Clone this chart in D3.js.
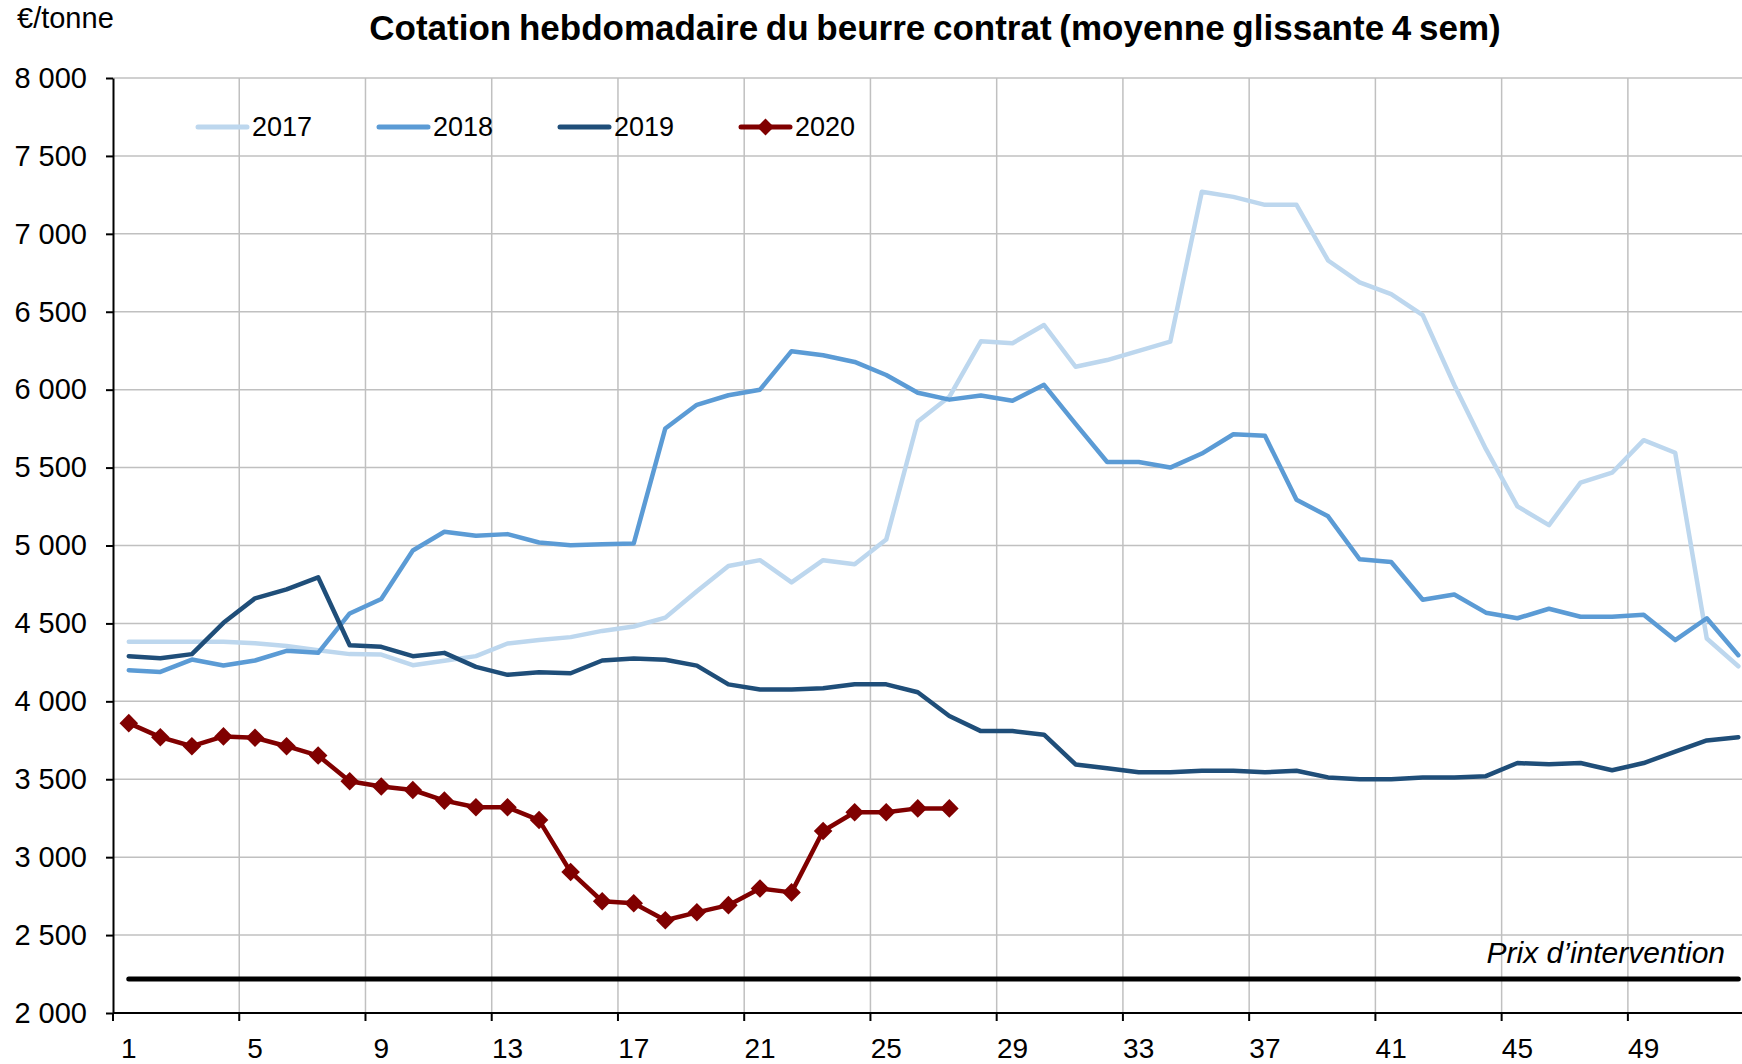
<!DOCTYPE html>
<html>
<head>
<meta charset="utf-8">
<script src="https://cdnjs.cloudflare.com/ajax/libs/d3/7.8.5/d3.min.js"></script>
<style>
  body { margin: 0; background: #fff; }
  text { font-family: "Liberation Sans", Arial, sans-serif; }
</style>
</head>
<body>
<div class="graph"></div>
<script>
const weeks = d3.range(1, 53);
const years = ["2017", "2018", "2019", "2020"];
const weekLabels = [1, 5, 9, 13, 17, 21, 25, 29, 33, 37, 41, 45, 49];
const yTicks = [2000, 2500, 3000, 3500, 4000, 4500, 5000, 5500, 6000, 6500, 7000, 7500, 8000];

const s2017 = [4382, 4382, 4382, 4382, 4372, 4355, 4328, 4303, 4300, 4232,
               4260, 4290, 4371, 4393, 4412, 4452, 4480, 4537, 4707, 4868,
               4906, 4763, 4906, 4880, 5038, 5796, 5954, 6310, 6298, 6415,
               6147, 6190, 6249, 6308, 7270, 7237, 7186, 7186, 6829, 6689,
               6613, 6478, 6030, 5620, 5251, 5131, 5404, 5467, 5676, 5595,
               4403, 4225];
const s2018 = [4200, 4189, 4268, 4230, 4262, 4324, 4311, 4564, 4657, 4968,
               5088, 5062, 5073, 5019, 5002, 5008, 5013, 5751, 5903, 5964,
               6000, 6247, 6221, 6178, 6094, 5980, 5936, 5962, 5929, 6031,
               5780, 5536, 5536, 5500, 5590, 5714, 5704, 5294, 5187, 4912,
               4894, 4652, 4686, 4569, 4533, 4594, 4543, 4543, 4556, 4393,
               4533, 4296];
const s2019 = [4290, 4277, 4303, 4504, 4661, 4719, 4796, 4360, 4350, 4290,
               4311, 4221, 4170, 4187, 4180, 4262, 4275, 4267, 4229, 4109,
               4076, 4076, 4084, 4109, 4109, 4058, 3906, 3809, 3809, 3786,
               3595, 3570, 3545, 3545, 3555, 3555, 3545, 3555, 3512, 3500,
               3500, 3512, 3512, 3520, 3604, 3596, 3604, 3558, 3604, 3678,
               3749, 3770];
const s2020 = [3860, 3770, 3712, 3775, 3766, 3712, 3652, 3487, 3453, 3431,
               3363, 3320, 3320, 3238, 2905, 2717, 2704, 2595, 2646, 2692,
               2799, 2774, 3168, 3288, 3288, 3313, 3313];
const interventionPrice = 2218;

const colors = ["#bdd7ee", "#5b9bd5", "#1f4e79", "#800000"];
const series = [s2017, s2018, s2019, s2020];

const w = 1742;
const h = 1064;
const margin = {top: 78, left: 113, bottom: 51};
const plotRight = 113 + 52 * 31.56;

const canvas = d3.select(".graph")
                 .append("svg")
                 .attr("width", w)
                 .attr("height", h);

const x = d3.scaleBand()
            .domain(weeks)
            .range([margin.left, plotRight]);

const y = d3.scaleLinear()
            .domain([2000, 8000])
            .range([h - margin.bottom, margin.top]);

const fr = d3.formatLocale({decimal: ",", thousands: " ", grouping: [3], currency: ["", " €"]});
const fmt = fr.format(",");

// grid
canvas.append("g")
      .selectAll("line")
      .data(yTicks.slice(1))
      .enter().append("line")
      .attr("x1", margin.left).attr("x2", w)
      .attr("y1", d => y(d)).attr("y2", d => y(d))
      .attr("stroke", "#c0c0c0").attr("stroke-width", 1.5);

canvas.append("g")
      .selectAll("line")
      .data(weekLabels.slice(1))
      .enter().append("line")
      .attr("x1", d => x(d)).attr("x2", d => x(d))
      .attr("y1", y(2000)).attr("y2", y(8000))
      .attr("stroke", "#c0c0c0").attr("stroke-width", 1.5);

// axes
const yAxis = d3.axisLeft(y)
                .tickValues(yTicks)
                .tickFormat(d => fmt(d))
                .tickSizeInner(7)
                .tickSizeOuter(0)
                .tickPadding(19);

canvas.append("g")
      .attr("transform", `translate(${margin.left},0)`)
      .call(yAxis)
      .call(g => g.select(".domain").attr("stroke-width", 2))
      .call(g => g.selectAll(".tick line").attr("stroke-width", 2))
      .call(g => g.selectAll("text").attr("font-size", 29).attr("fill", "#000")
                  .attr("font-family", "Liberation Sans, Arial, sans-serif"));

const xAxis = d3.axisBottom(x)
                .tickValues(weekLabels)
                .tickSize(0)
                .tickPadding(25);

canvas.append("g")
      .attr("transform", `translate(0,${y(2000)})`)
      .call(xAxis)
      .call(g => g.select(".domain").attr("d", `M${margin.left},0H${w}`).attr("stroke-width", 2))
      .call(g => g.selectAll("text").attr("font-size", 28).attr("fill", "#000")
                  .attr("font-family", "Liberation Sans, Arial, sans-serif"));

canvas.append("g")
      .selectAll("line")
      .data(weekLabels)
      .enter().append("line")
      .attr("x1", d => x(d)).attr("x2", d => x(d))
      .attr("y1", y(2000)).attr("y2", y(2000) + 8)
      .attr("stroke", "#000").attr("stroke-width", 2);

// series
const line = d3.line()
               .x((d, i) => x(weeks[i]) + x.bandwidth() / 2)
               .y(d => y(d));

series.forEach(function(s, k) {
  canvas.append("path")
        .datum(s)
        .attr("fill", "none")
        .attr("stroke", colors[k])
        .attr("stroke-width", 4.5)
        .attr("stroke-linejoin", "round")
        .attr("stroke-linecap", "round")
        .attr("d", line);
});

const diamond = d3.symbol().type(d3.symbolDiamond2).size(220);

canvas.append("g")
      .selectAll("path")
      .data(s2020)
      .enter().append("path")
      .attr("d", diamond)
      .attr("transform", (d, i) => `translate(${x(weeks[i]) + x.bandwidth() / 2},${y(d)})`)
      .attr("fill", colors[3]);

// intervention price
canvas.append("line")
      .attr("x1", x(1) + x.bandwidth() / 2)
      .attr("x2", x(52) + x.bandwidth() / 2)
      .attr("y1", y(interventionPrice))
      .attr("y2", y(interventionPrice))
      .attr("stroke", "#000")
      .attr("stroke-width", 5)
      .attr("stroke-linecap", "round");

canvas.append("text")
      .attr("x", 1725)
      .attr("y", y(interventionPrice) - 16)
      .attr("text-anchor", "end")
      .attr("font-family", "Lato, sans-serif")
      .attr("font-style", "italic")
      .attr("font-size", 30)
      .text("Prix d\u2019intervention");

// legend
const legend = canvas.append("g")
                     .selectAll("g")
                     .data(years)
                     .enter().append("g")
                     .attr("transform", (d, i) => `translate(${198 + i * 181},127)`);

legend.append("line")
      .attr("x1", 0).attr("x2", 49)
      .attr("stroke", (d, i) => colors[i])
      .attr("stroke-width", 5)
      .attr("stroke-linecap", "round");

legend.filter(d => d === "2020")
      .append("path")
      .attr("d", d3.symbol().type(d3.symbolDiamond2).size(180))
      .attr("transform", "translate(24.5,0)")
      .attr("fill", colors[3]);

legend.append("text")
      .attr("x", 54)
      .attr("dy", "0.35em")
      .attr("font-size", 27)
      .text(d => d);

// titles
canvas.append("text")
      .attr("x", 935)
      .attr("y", 40)
      .attr("text-anchor", "middle")
      .attr("font-weight", "bold")
      .attr("font-size", 35)
      .attr("word-spacing", -2)
      .text("Cotation hebdomadaire du beurre contrat (moyenne glissante 4 sem)");

canvas.append("text")
      .attr("x", 17)
      .attr("y", 28)
      .attr("font-size", 29)
      .text("\u20ac/tonne");
</script>
</body>
</html>
